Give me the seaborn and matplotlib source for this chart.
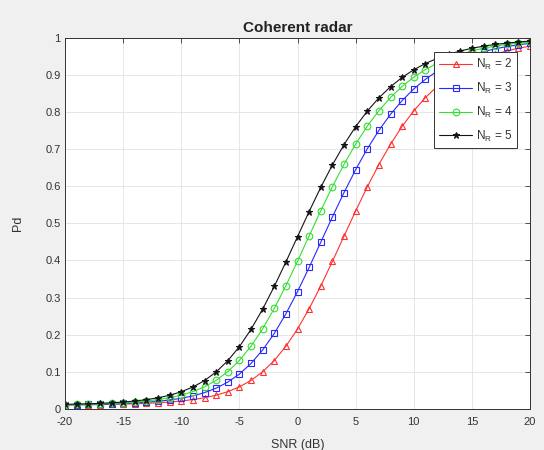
import matplotlib
matplotlib.use("Agg")
import matplotlib.pyplot as plt
import seaborn as sns
import pandas as pd

# ---- data ----
snr_db = [-20, -19, -18, -17, -16, -15, -14, -13, -12, -11,
          -10, -9, -8, -7, -6, -5, -4, -3, -2, -1,
          0, 1, 2, 3, 4, 5, 6, 7, 8, 9,
          10, 11, 12, 13, 14, 15, 16, 17, 18, 19, 20]

pd_n2 = [0.0109, 0.0112, 0.0115, 0.0119, 0.0125, 0.0132, 0.0140, 0.0152, 0.0168, 0.0188,
         0.0215, 0.0253, 0.0303, 0.0372, 0.0466, 0.0595, 0.0770, 0.1003, 0.1306, 0.1688,
         0.2154, 0.2701, 0.3314, 0.3974, 0.4656, 0.5333, 0.5982, 0.6585, 0.7131, 0.7613,
         0.8031, 0.8387, 0.8686, 0.8935, 0.9140, 0.9308, 0.9445, 0.9555, 0.9644, 0.9716, 0.9773]
pd_n3 = [0.0114, 0.0118, 0.0123, 0.0130, 0.0138, 0.0149, 0.0163, 0.0183, 0.0208, 0.0243,
         0.0289, 0.0353, 0.0441, 0.0561, 0.0724, 0.0941, 0.1226, 0.1589, 0.2035, 0.2563,
         0.3162, 0.3813, 0.4492, 0.5173, 0.5830, 0.6446, 0.7006, 0.7504, 0.7937, 0.8307,
         0.8620, 0.8880, 0.9095, 0.9271, 0.9415, 0.9531, 0.9625, 0.9700, 0.9761, 0.9809, 0.9848]
pd_n4 = [0.0119, 0.0125, 0.0132, 0.0141, 0.0152, 0.0168, 0.0188, 0.0216, 0.0253, 0.0304,
         0.0373, 0.0468, 0.0597, 0.0772, 0.1005, 0.1309, 0.1692, 0.2160, 0.2707, 0.3321,
         0.3981, 0.4663, 0.5340, 0.5988, 0.6591, 0.7136, 0.7618, 0.8035, 0.8390, 0.8689,
         0.8938, 0.9142, 0.9310, 0.9446, 0.9556, 0.9645, 0.9717, 0.9774, 0.9820, 0.9857, 0.9886]
pd_n5 = [0.0125, 0.0131, 0.0140, 0.0152, 0.0167, 0.0188, 0.0215, 0.0252, 0.0302, 0.0370,
         0.0464, 0.0592, 0.0766, 0.0997, 0.1299, 0.1679, 0.2144, 0.2689, 0.3301, 0.3960,
         0.4642, 0.5319, 0.5969, 0.6573, 0.7120, 0.7604, 0.8023, 0.8380, 0.8681, 0.8931,
         0.9137, 0.9305, 0.9442, 0.9553, 0.9643, 0.9715, 0.9772, 0.9819, 0.9855, 0.9885, 0.9909]

series_labels = [r"N$_\mathregular{R}$ = 2", r"N$_\mathregular{R}$ = 3",
                 r"N$_\mathregular{R}$ = 4", r"N$_\mathregular{R}$ = 5"]
x_ticks = [-20, -15, -10, -5, 0, 5, 10, 15, 20]
x_tick_labels = ["-20", "-15", "-10", "-5", "0", "5", "10", "15", "20"]
y_ticks = [0, 0.1, 0.2, 0.3, 0.4, 0.5, 0.6, 0.7, 0.8, 0.9, 1]
y_tick_labels = ["0", "0.1", "0.2", "0.3", "0.4", "0.5", "0.6", "0.7", "0.8", "0.9", "1"]

# ---- styling ----
sns.set_style("white")
plt.rcParams["font.family"] = ["Liberation Sans", "DejaVu Sans"]
plt.rcParams["axes.unicode_minus"] = False

fig = plt.figure(figsize=(5.44, 4.5), dpi=100, facecolor="#f0f0f0")
ax = fig.add_axes([0.1195, 0.0911, 0.8548, 0.8251])
ax.set_facecolor("white")

styles = [
    dict(color="#ff3030", marker="^", markerfacecolor="none", markeredgecolor="#ff3030", markersize=5),
    dict(color="#2828ff", marker="s", markerfacecolor="none", markeredgecolor="#2828ff", markersize=4.3),
    dict(color="#30e030", marker="o", markerfacecolor="none", markeredgecolor="#30e030", markersize=4.8),
    dict(color="#151515", marker="*", markerfacecolor="#151515", markeredgecolor="#151515", markersize=5),
]
all_values = [pd_n2, pd_n3, pd_n4, pd_n5]

for vals, lab, st in zip(all_values, series_labels, styles):
    df = pd.DataFrame({"snr": snr_db, "pd": vals})
    sns.lineplot(data=df, x="snr", y="pd", ax=ax, label=lab,
                 linewidth=0.8, markeredgewidth=0.8, **st)

ax.set_xlim(-20, 20)
ax.set_ylim(0, 1)
ax.set_xticks(x_ticks)
ax.set_xticklabels(x_tick_labels)
ax.set_yticks(y_ticks)
ax.set_yticklabels(y_tick_labels)
ax.grid(True, color="#e2e2e2", linewidth=0.6)
ax.set_axisbelow(True)
ax.tick_params(direction="in", length=3.5, width=0.6, top=True, right=True,
               labelsize=8, colors="#333333", pad=3)
ax.tick_params(axis="x", pad=6)
for sp in ax.spines.values():
    sp.set_color("#333333")
    sp.set_linewidth(0.7)

ax.set_title("Coherent radar", fontsize=11, fontweight="bold", pad=4, color="#222222")
ax.set_xlabel("SNR (dB)", fontsize=9, color="#333333")
ax.set_ylabel("Pd", fontsize=9, color="#333333")
ax.xaxis.set_label_coords(0.5, -0.08)
ax.yaxis.set_label_coords(-0.088, 0.5)

leg = ax.legend(loc="upper right", bbox_to_anchor=(0.972, 0.9615), borderaxespad=0,
                fontsize=8.5, frameon=True, fancybox=False, framealpha=1,
                edgecolor="#333333", handlelength=2.8, handletextpad=0.3,
                labelspacing=0.75, borderpad=0.4)
leg.get_frame().set_linewidth(0.7)
for t in leg.get_texts():
    t.set_color("#333333")

fig.savefig("out.png", dpi=100, facecolor=fig.get_facecolor())
